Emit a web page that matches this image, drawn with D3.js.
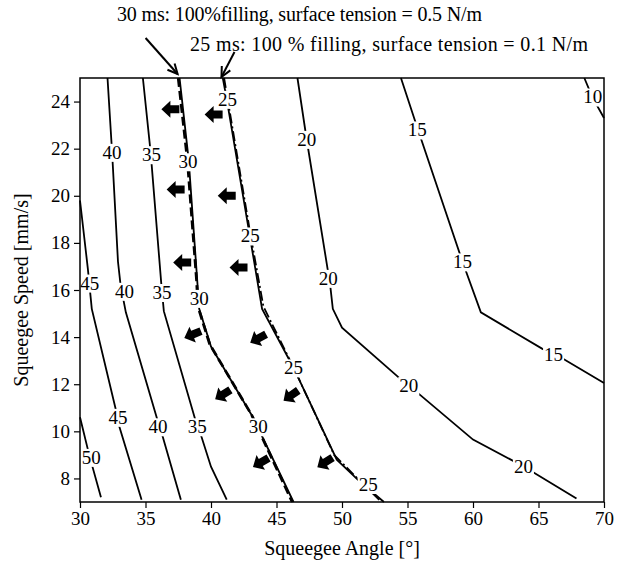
<!DOCTYPE html>
<html><head><meta charset="utf-8">
<script src="https://cdn.jsdelivr.net/npm/d3@7"></script>
<style>body{margin:0;background:#fff}</style>
</head><body><svg id="c" width="624" height="565"></svg>
<script>
const xTicks = [30,35,40,45,50,55,60,65,70];
const yTicks = [8,10,12,14,16,18,20,22,24];
const levels = [50,45,40,35,30,25,20,15,10];
const contourPts = [
  [[30,10.6],[30.7,9.0],[31.6,7.2]],
  [[30,19.8],[30.6,16.9],[30.9,15.2],[32.7,11.0],[33.0,10.2],[34.7,7.1]],
  [[32.1,25],[32.45,21.85],[32.9,17.2],[33.1,16.2],[33.5,15.05],[35.9,10.5],[36.3,9.8],[37.7,7.1]],
  [[34.8,25],[35.4,21.8],[36.2,16.3],[36.4,15.1],[38.9,10.3],[39.2,9.9],[40.0,8.5],[41.2,7.1]],
  [[37.6,25],[38.3,21.5],[39.0,16.0],[39.1,15.2],[40.0,13.6],[43.2,10.6],[46.3,7.0]],
  [[40.9,25],[41.2,24.1],[42.9,18.5],[43.9,15.2],[46.3,12.7],[49.6,8.8],[51.2,7.95],[53.2,7.0]],
  [[46.6,25],[47.3,22.4],[48.9,16.9],[49.1,16.2],[49.3,15.2],[50.0,14.4],[54.3,12.3],[55.1,11.95],[60.0,9.65],[63.9,8.5],[67.9,7.15]],
  [[54.5,25],[55.8,22.8],[59.2,17.2],[60.6,15.05],[65.3,13.5],[66.2,13.3],[70,12.05]],
  [[68.5,25],[69.1,24.2],[70,23.3]]
];
const labelPts = [
  [[30.85,8.9]],
  [[30.75,16.3],[32.9,10.6]],
  [[32.45,21.85],[33.4,15.95],[35.95,10.2]],
  [[35.45,21.75],[36.25,15.9],[38.95,10.2]],
  [[38.25,21.45],[39.1,15.65],[43.6,10.2]],
  [[41.25,24.1],[43.0,18.3],[46.3,12.7],[52.0,7.75]],
  [[47.3,22.4],[48.95,16.5],[55.1,11.95],[63.85,8.5]],
  [[55.75,22.8],[59.2,17.2],[66.15,13.25]],
  [[69.15,24.2]]
];
const fill30Pts = [[37.5,25],[38.2,21.5],[38.9,16.4],[39.0,15.3],[39.9,13.7],[43.1,10.7],[46.2,7.0]];
const fill25Pts = [[41.0,25],[41.3,24.0],[43.0,18.4],[44.0,15.3],[46.4,12.6],[49.4,9.0],[51.0,8.1],[53.0,7.0]];
const arrowPts = [[36.9,23.67],[37.3,20.27],[37.8,17.17],[38.6,14.11],[40.9,11.56],[43.8,8.68],
                  [40.2,23.45],[41.2,20.0],[42.1,16.96],[43.6,13.94],[46.1,11.52],[48.7,8.68]];
const arrowDirs = [180,180,180,158,148,150,180,180,180,152,145,148];
const notes = ["30 ms: 100%filling, surface tension = 0.5 N/m", "25 ms: 100 % filling, surface tension = 0.1 N/m"];
const noteTips = [[37.45,25],[40.8,25]];

const W = 624, H = 565;
const m = {l:80, r:20, t:78, b:63};
const svg = d3.select("#c");
const font = "'Liberation Serif','Times New Roman',serif";
const fs = 19;
const x = d3.scaleLinear().domain([30,70]).range([m.l, W-m.r]);
const y = d3.scaleLinear().domain([7,25]).range([H-m.b, m.t]);

const line = d3.line().x(d=>x(d[0])).y(d=>y(d[1]));

// axes
const gx = svg.append("g").attr("transform",`translate(0,${H-m.b})`)
  .call(d3.axisBottom(x).tickValues(xTicks).tickSize(6).tickSizeOuter(0).tickPadding(4));
const gy = svg.append("g").attr("transform",`translate(${m.l},0)`)
  .call(d3.axisLeft(y).tickValues(yTicks).tickSize(6).tickSizeOuter(0).tickPadding(4));
[gx,gy].forEach(g=>{
  g.select(".domain").remove();
  g.selectAll("line").attr("stroke","#000").attr("stroke-width",1.2);
  g.selectAll("text").attr("font-family",font).attr("font-size",fs).attr("fill","#000");
});

// contour lines
svg.append("g").selectAll("path").data(contourPts).join("path")
  .attr("d",line).attr("fill","none").attr("stroke","#000").attr("stroke-width",1.8);

// filling overlays
svg.append("path").attr("d",line(fill30Pts)).attr("fill","none").attr("stroke","#000")
  .attr("stroke-width",2.8).attr("stroke-dasharray","9,4");
svg.append("path").attr("d",line(fill25Pts)).attr("fill","none").attr("stroke","#000")
  .attr("stroke-width",1.8).attr("stroke-dasharray","10,3,2,3");

// contour labels
const lg = svg.append("g");
levels.forEach((lv,i)=>{
  labelPts[i].forEach(p=>{
    const g = lg.append("g");
    const r = g.append("rect").attr("fill","#fff");
    const t = g.append("text").attr("x",x(p[0])).attr("y",y(p[1]))
      .attr("text-anchor","middle").attr("dy","0.35em")
      .attr("font-family",font).attr("font-size",fs).text(lv);
    const bb = t.node().getBBox();
    r.attr("x",bb.x-1).attr("y",bb.y+2).attr("width",bb.width+2).attr("height",bb.height-3);
  });
});

// block arrows
svg.append("g").selectAll("path").data(arrowPts).join("path")
  .attr("d","M-9,-4L0,-4L0,-8.5L9,0L0,8.5L0,4L-9,4Z")
  .attr("fill","#000")
  .attr("transform",(d,i)=>`translate(${x(d[0])},${y(d[1])}) rotate(${arrowDirs[i]})`);

// frame
svg.append("rect").attr("x",m.l).attr("y",m.t).attr("width",W-m.l-m.r).attr("height",H-m.t-m.b)
  .attr("fill","none").attr("stroke","#000").attr("stroke-width",1.5);

// annotation texts
svg.append("text").attr("x",117).attr("y",21).attr("font-family",font).attr("font-size",20)
  .attr("textLength",365).attr("lengthAdjust","spacing").text(notes[0]);
svg.append("text").attr("x",190).attr("y",51).attr("font-family",font).attr("font-size",20)
  .attr("textLength",398).attr("lengthAdjust","spacing").text(notes[1]);

// annotation arrows
const tails = [[-32,-36],[13,-25]];
noteTips.forEach((tp,i)=>{
  const tx = x(tp[0]), ty = y(tp[1]) - (i===0?4:1);
  const sx = tx + tails[i][0], sy = ty + tails[i][1];
  svg.append("line").attr("x1",sx).attr("y1",sy).attr("x2",tx).attr("y2",ty)
    .attr("stroke","#000").attr("stroke-width",2);
  const ang = Math.atan2(ty-sy, tx-sx);
  const hl = 11, ha = 0.45;
  const p1 = [tx - hl*Math.cos(ang-ha), ty - hl*Math.sin(ang-ha)];
  const p2 = [tx - hl*Math.cos(ang+ha), ty - hl*Math.sin(ang+ha)];
  svg.append("path").attr("d",`M${p1}L${tx},${ty}L${p2}`).attr("fill","none")
    .attr("stroke","#000").attr("stroke-width",2);
});

// axis titles
svg.append("text").attr("x",(m.l+W-m.r)/2).attr("y",555).attr("text-anchor","middle")
  .attr("font-family",font).attr("font-size",20).text("Squeegee Angle [°]");
svg.append("text").attr("transform",`translate(28,${(m.t+H-m.b)/2}) rotate(-90)`)
  .attr("text-anchor","middle").attr("font-family",font).attr("font-size",20).text("Squeegee Speed [mm/s]");
</script>
</body></html>
